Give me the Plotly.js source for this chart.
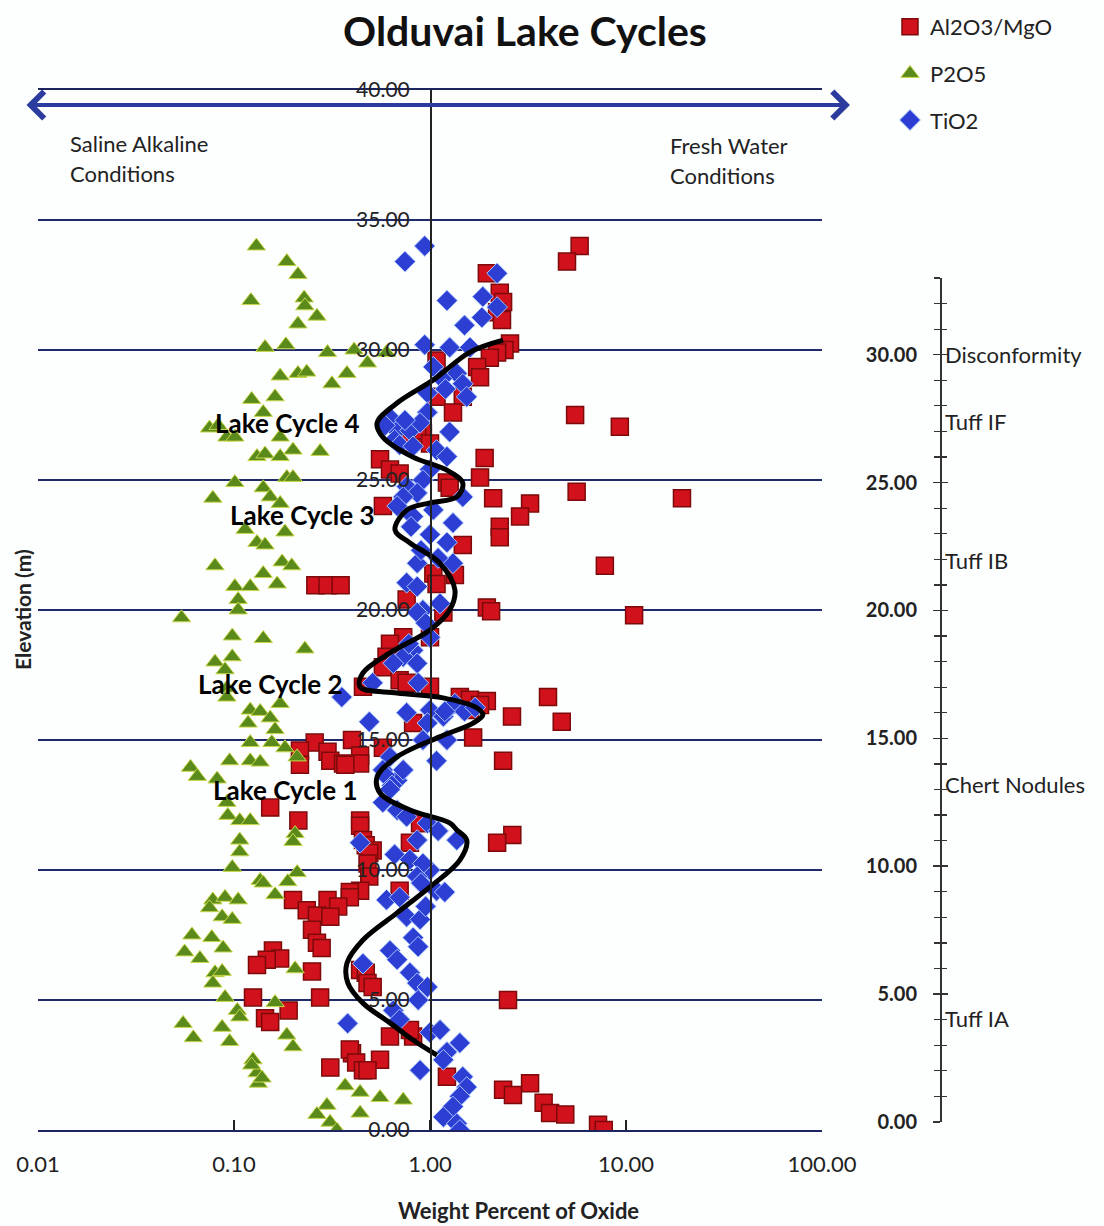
<!DOCTYPE html>
<html>
<head>
<meta charset="utf-8">
<script src="https://cdn.plot.ly/plotly-3.0.1.min.js"></script>
<style>html,body{margin:0;padding:0;background:#fdfefe;}</style>
</head>
<body>
<div id="chart" style="width:1104px;height:1226px;"></div>
<script>
// ---------------- DATA ----------------
// Al2O3/MgO (red squares): weight %, elevation (m)
const alX = [5.8,5.0,1.95,2.27,2.36,2.2,2.33,2.56,2.4,2.2,2.02,1.74,1.8,1.08,1.47,1.08,1.31,5.5,9.3,0.92,0.86,1.0,0.76,1.9,0.556,0.625,0.70,1.8,1.22,1.26,5.6,2.1,19.3,3.24,0.575,2.88,2.27,2.27,1.47,7.8,1.04,1.34,1.08,0.26,0.30,0.35,0.76,1.95,2.05,1.17,11.0,1.0,0.73,0.625,0.60,0.575,0.70,0.76,1.0,0.455,4.0,1.42,1.6,1.95,1.8,1.6,2.62,4.7,0.82,1.66,0.40,0.258,0.575,0.217,0.30,0.44,2.36,0.31,0.217,0.36,0.44,0.37,0.153,0.44,0.213,0.89,0.44,2.63,0.455,0.47,2.2,0.79,0.51,0.49,0.48,0.49,0.44,0.70,0.39,0.39,0.30,0.20,0.34,0.235,0.265,0.31,0.25,0.265,0.28,0.158,0.172,0.147,0.131,0.44,0.25,0.47,0.48,0.51,0.125,0.275,2.5,0.19,0.144,0.153,0.625,0.82,0.79,0.40,0.39,0.42,0.556,0.31,0.455,0.48,1.22,3.24,2.36,2.65,3.8,4.1,4.9,7.2,7.7];
const alY = [34.0,33.4,32.95,32.2,31.85,31.45,31.15,30.25,30.0,29.9,29.7,29.35,28.95,29.6,28.2,28.2,27.6,27.5,27.05,26.8,26.9,26.4,26.4,25.85,25.8,25.4,25.25,25.1,24.9,24.7,24.55,24.3,24.3,24.1,24.0,23.6,23.2,22.8,22.5,21.7,21.4,21.35,21.0,20.95,20.95,20.95,20.4,20.1,19.95,19.9,19.8,18.95,18.95,18.7,18.2,17.8,17.3,17.2,17.05,17.05,16.65,16.65,16.55,16.5,16.35,16.15,15.9,15.7,15.65,15.1,15.0,14.9,14.7,14.6,14.55,14.4,14.2,14.2,14.05,14.1,14.1,14.05,12.4,11.9,11.9,11.8,11.7,11.35,11.15,10.95,11.05,11.05,10.75,10.65,10.25,9.75,9.2,9.2,9.15,8.95,8.85,8.85,8.6,8.45,8.25,8.2,7.7,7.2,7.0,6.9,6.6,6.55,6.35,6.15,6.1,6.05,5.65,5.5,5.1,5.1,5.0,4.6,4.3,4.15,3.6,3.6,3.85,2.95,3.1,2.6,2.7,2.4,2.3,2.3,2.05,1.8,1.55,1.35,1.05,0.65,0.6,0.2,0.0];

// P2O5 (green triangles)
const pX = [0.130,0.186,0.212,0.122,0.228,0.23,0.265,0.212,0.144,0.184,0.30,0.48,0.60,0.41,0.172,0.212,0.235,0.316,0.377,0.123,0.162,0.141,0.075,0.083,0.092,0.101,0.172,0.131,0.144,0.172,0.20,0.275,0.101,0.141,0.186,0.20,0.078,0.153,0.172,
0.114,0.131,0.144,0.182,0.080,0.141,0.176,0.197,0.101,0.121,0.166,0.105,0.105,0.054,0.098,0.141,0.23,0.080,0.098,0.090,0.092,0.092,0.121,0.136,0.172,0.118,0.153,0.162,0.121,0.156,0.182,0.121,0.136,0.095,0.060,0.065,0.21,0.082,0.092,0.093,0.107,0.121,
0.107,0.107,0.098,0.205,0.20,0.21,0.136,0.141,0.162,0.188,0.078,0.090,0.105,0.075,0.087,0.098,0.061,0.056,0.067,0.077,0.088,0.080,0.087,0.078,0.090,0.104,0.107,0.162,0.205,0.055,0.062,0.087,0.095,0.186,0.20,0.125,0.131,0.133,0.123,0.139,0.369,0.44,0.556,0.73,0.298,0.265,0.44,0.309,0.335];
const pY = [34.0,33.4,32.9,31.9,32.0,31.7,31.3,31.0,30.1,30.2,29.9,29.5,29.9,30.0,29.0,29.1,29.15,28.7,29.1,28.1,28.2,27.6,27.0,27.1,26.65,26.65,26.65,25.9,26.0,25.9,26.15,26.1,24.9,24.7,25.1,25.1,24.3,24.35,24.1,
23.1,22.6,22.5,23.0,21.7,21.4,21.85,21.7,20.9,20.9,21.0,20.4,20.0,19.7,19.0,18.9,18.5,18.0,18.2,17.7,17.0,16.65,16.15,16.1,16.4,15.65,15.85,15.4,14.9,14.9,14.7,14.2,14.15,14.2,13.95,13.6,14.35,13.5,12.6,12.1,11.9,11.9,
11.15,10.7,10.1,11.4,11.1,9.9,9.6,9.5,9.05,9.55,8.85,8.95,8.85,8.55,8.2,8.1,7.5,6.85,6.6,7.4,7.0,6.05,6.1,5.65,5.1,4.6,4.35,4.9,6.2,4.1,3.55,3.95,3.4,3.65,3.2,2.7,2.2,1.8,2.5,2.0,1.7,1.45,1.25,1.15,0.95,0.6,0.65,0.3,0.0];

// TiO2 (blue diamonds)
const tiX = [0.94,0.745,2.2,1.86,1.22,2.2,1.84,1.5,0.94,1.26,1.6,1.04,1.37,1.47,1.54,0.97,0.97,1.26,0.625,0.68,0.79,0.89,0.59,0.66,0.745,0.70,0.82,1.08,1.22,1.0,0.92,0.76,0.86,1.47,0.73,1.04,0.82,1.31,0.68,1.15,1.2,0.8,
1.0,1.22,1.31,0.86,0.76,0.86,1.125,0.92,0.86,1.0,0.82,0.73,0.65,0.86,0.51,0.87,0.355,0.76,0.49,1.0,1.17,0.97,1.26,1.34,1.5,1.7,1.19,0.92,1.22,1.08,0.625,0.575,0.68,0.73,0.59,0.64,0.625,0.575,0.68,0.76,0.97,0.9,1.1,0.95,0.78,
0.44,0.86,1.37,0.66,0.79,1.0,0.92,0.86,1.08,1.19,0.60,0.70,0.76,0.89,0.82,0.87,0.625,0.68,0.455,0.79,0.86,0.97,0.87,0.65,0.38,0.70,1.0,1.125,1.42,1.22,1.17,0.89,1.47,1.54,1.42,1.31,1.17,1.37,1.42,1.1,0.9,0.95];
const tiY = [34.0,33.4,32.95,32.05,31.9,31.65,31.25,30.95,30.2,30.1,30.1,29.35,29.1,28.7,28.2,28.35,27.6,26.85,27.4,26.9,26.9,27.2,27.1,26.55,27.3,26.35,26.3,26.15,25.9,25.4,25.0,24.75,24.5,24.35,24.35,23.85,23.6,23.35,24.0,28.9,28.5,23.2,
22.9,22.6,21.8,21.8,21.05,20.9,20.25,20.0,19.9,18.95,18.45,18.2,17.95,17.95,17.2,17.2,16.65,16.05,15.7,16.15,15.9,15.65,16.25,16.4,16.1,16.25,16.1,15.0,15.0,14.2,14.35,13.85,13.45,13.85,13.65,13.25,13.1,12.6,12.3,12.05,11.8,22.3,22.0,19.5,18.7,
11.05,11.15,11.15,10.6,10.4,10.0,10.25,9.75,9.2,9.15,8.85,8.95,8.2,8.1,7.4,7.05,6.9,6.55,6.4,6.05,5.65,5.5,5.0,4.6,4.1,4.25,3.75,3.85,3.35,3.0,2.7,2.3,2.05,1.65,1.3,0.9,0.5,0.25,0.0,11.5,9.5,8.6];

// Black trend curve
const curveX = [2.36,1.60,1.04,0.679,0.537,0.575,0.819,1.22,1.47,1.37,1.0,0.763,0.663,0.791,1.12,1.34,1.26,1.0,0.625,0.455,0.440,0.679,1.165,1.74,1.86,1.66,1.12,0.679,0.537,0.556,0.791,1.26,1.37,1.54,1.42,1.0,0.679,0.455,0.377,0.381,0.455,0.625,0.819,1.085];
const curveY = [30.38,29.92,28.85,27.96,27.19,26.65,25.88,25.38,24.88,24.35,24.12,23.85,23.08,22.58,21.81,20.77,20.0,19.23,18.35,17.58,17.04,16.81,16.62,16.23,15.96,15.65,15.12,14.35,13.58,12.96,12.31,11.81,11.54,11.15,10.38,9.35,8.35,7.31,6.42,5.65,4.88,4.12,3.46,2.88];

// Axis tick labels
const xTickVals = [0.01, 0.1, 1, 10, 100];
const xTickText = ['0.01', '0.10', '1.00', '10.00', '100.00'];
const yTickVals = [0, 5, 10, 15, 20, 25, 30, 35, 40];
const yTickText = ['0.00','5.00','10.00','15.00','20.00','25.00','30.00','35.00','40.00'];
const y2TickVals = [0, 5, 10, 15, 20, 25, 30];
const y2TickText = ['0.00','5.00','10.00','15.00','20.00','25.00','30.00'];
const y2Minor = [0,1,2,3,4,5,6,7,8,9,10,11,12,13,14,15,16,17,18,19,20,21,22,23,24,25,26,27,28,29,30,31,32,33];

// Right-side stratigraphic markers
const stratNames = ['Disconformity', 'Tuff IF', 'Tuff IB', 'Chert Nodules', 'Tuff IA'];
const stratElev = [30.0, 27.4, 21.95, 13.2, 4.06];

const cycleNames = ['Lake Cycle 4', 'Lake Cycle 3', 'Lake Cycle 2', 'Lake Cycle 1'];

// ---------------- LAYOUT HELPERS (pixel -> paper) ----------------
const PL = 38, PR = 1060, PT = 90, PB = 1130;
function px(x) { return (x - PL) / (PR - PL); }
function py(y) { return (PB - y) / (PB - PT); }

const FONT = 'Lato, "Open Sans", sans-serif';

const traces = [
  {x: alX, y: alY, type: 'scatter', mode: 'markers', name: 'Al2O3/MgO', legendgroup: 'a',
   marker: {symbol: 'square', size: 17, color: '#d1121c', line: {color: '#7c0a0a', width: 1.5}}, hoverinfo: 'x+y'},
  {x: pX, y: pY, type: 'scatter', mode: 'markers', name: 'P2O5', legendgroup: 'b',
   marker: {symbol: 'triangle-up', size: 16, color: '#5a8a1c', line: {color: '#c9d84a', width: 1}}, hoverinfo: 'x+y'},
  {x: tiX, y: tiY, type: 'scatter', mode: 'markers', name: 'TiO2', legendgroup: 'c',
   marker: {symbol: 'diamond', size: 16, color: '#2c3fd2', line: {color: '#a9c4ff', width: 1}}, hoverinfo: 'x+y'},
  {x: curveX, y: curveY, type: 'scatter', mode: 'lines', showlegend: false,
   line: {color: '#000', width: 5, shape: 'spline', smoothing: 1.0}, hoverinfo: 'skip'},
  {x: [null], y: [null], type: 'scatter', mode: 'markers', yaxis: 'y2', showlegend: false, hoverinfo: 'skip'},
  {x: [null], y: [null], type: 'scatter', mode: 'markers', yaxis: 'y3', showlegend: false, hoverinfo: 'skip'}
];

const annotations = [];
function txt(t, x, y, opts) {
  annotations.push(Object.assign({text: t, x: x, y: y, xref: 'paper', yref: 'paper', showarrow: false,
    font: {family: FONT, size: 22, color: '#222'}}, opts || {}));
}
// axis titles
txt('<b>Elevation (m)</b>', px(22), py(610), {textangle: -90, xanchor: 'center', yanchor: 'middle',
  font: {family: FONT, size: 21, color: '#222'}});
txt('<b>Weight Percent of Oxide</b>', px(518), py(1210), {xanchor: 'center', yanchor: 'middle',
  font: {family: FONT, size: 22, color: '#222'}});
// condition labels
txt('Saline Alkaline', px(68), py(143), {xanchor: 'left', yanchor: 'middle'});
txt('Conditions', px(68), py(173), {xanchor: 'left', yanchor: 'middle'});
txt('Fresh Water', px(668), py(145), {xanchor: 'left', yanchor: 'middle'});
txt('Conditions', px(668), py(175), {xanchor: 'left', yanchor: 'middle'});
// lake cycle labels
const cyclePos = [[287, 423], [302, 515], [270, 684], [285, 790]];
cycleNames.forEach((n, i) => txt('<b>' + n + '</b>', px(cyclePos[i][0]), py(cyclePos[i][1]),
  {xanchor: 'center', yanchor: 'middle', font: {family: FONT, size: 26, color: '#000'}}));
// strat markers on the right axis
stratNames.forEach((n, i) => annotations.push({text: n, x: px(943), y: stratElev[i], xref: 'paper', yref: 'y2',
  xanchor: 'left', yanchor: 'middle', showarrow: false, font: {family: FONT, size: 22, color: '#222'}}));
// double-headed arrow
annotations.push({text: '', x: px(850), y: py(105), xref: 'paper', yref: 'paper', showarrow: true,
  ax: -825, ay: 0, axref: 'pixel', ayref: 'pixel', arrowside: 'end+start', arrowhead: 4, startarrowhead: 4,
  arrowsize: 1.3, startarrowsize: 1.3, arrowwidth: 4, arrowcolor: '#2b3c9e', standoff: 0, startstandoff: 0});

const layout = {
  width: 1104, height: 1226,
  margin: {l: PL, r: 1104 - PR, t: PT, b: 1226 - PB, autoexpand: false},
  paper_bgcolor: '#fdfefe', plot_bgcolor: 'rgba(0,0,0,0)',
  font: {family: FONT, color: '#222'},
  title: {text: '<b>Olduvai Lake Cycles</b>', font: {family: FONT, size: 41, color: '#111'},
          x: 525 / 1104, xanchor: 'center', xref: 'container', y: 1 - 32 / 1226, yanchor: 'middle', yref: 'container'},
  showlegend: true,
  legend: {x: px(890), y: py(6), xanchor: 'left', yanchor: 'top', font: {family: FONT, size: 22, color: '#222'},
           bgcolor: 'rgba(0,0,0,0)', traceorder: 'grouped', tracegroupgap: 15, itemwidth: 30},
  xaxis: {type: 'log', domain: [0, (822 - PL) / (PR - PL)], range: [-2, 2],
          tickmode: 'array', tickvals: xTickVals, ticktext: xTickText,
          ticks: 'inside', ticklen: 10, tickwidth: 1.5, tickcolor: '#222',
          showline: true, mirror: true, linecolor: '#1c2560', linewidth: 2, showgrid: false, zeroline: false,
          tickfont: {family: FONT, size: 22, color: '#222'}, ticklabelstandoff: 14},
  yaxis: {range: [0, 40], anchor: 'free', position: px(430), tickmode: 'array', tickvals: yTickVals, ticktext: yTickText,
          showgrid: true, gridcolor: '#1f2a6b', gridwidth: 1.5, zeroline: false,
          showline: true, linecolor: '#222', linewidth: 1.5, ticks: '',
          tickfont: {family: FONT, size: 21, color: '#222'}, ticklabelstandoff: 16},
  yaxis2: {domain: [py(1122), py(278)], range: [0, 33], anchor: 'free', position: px(940), side: 'left',
           tickmode: 'array', tickvals: y2TickVals, ticktext: y2TickText,
           ticks: 'outside', ticklen: 7, tickwidth: 1.5, tickcolor: '#333',
           minor: {tickmode: 'array', tickvals: y2Minor, ticks: 'outside', ticklen: 6, tickwidth: 1.2, tickcolor: '#333'},
           showline: true, linecolor: '#333', linewidth: 1.8, showgrid: false, zeroline: false,
           tickfont: {family: FONT, size: 20, color: '#222', weight: 'bold'}, ticklabelstandoff: 12},
  yaxis3: {overlaying: 'y2', range: [0, 33], anchor: 'free', position: px(940), side: 'left',
           tickmode: 'array', tickvals: y2TickVals, showticklabels: false,
           ticks: 'inside', ticklen: 7, tickwidth: 1.5, tickcolor: '#333',
           minor: {tickmode: 'array', tickvals: y2Minor, ticks: 'inside', ticklen: 6, tickwidth: 1.2, tickcolor: '#333'},
           showline: false, showgrid: false, zeroline: false},
  annotations: annotations
};

Plotly.newPlot('chart', traces, layout, {displayModeBar: false, staticPlot: true});
</script>
</body>
</html>
